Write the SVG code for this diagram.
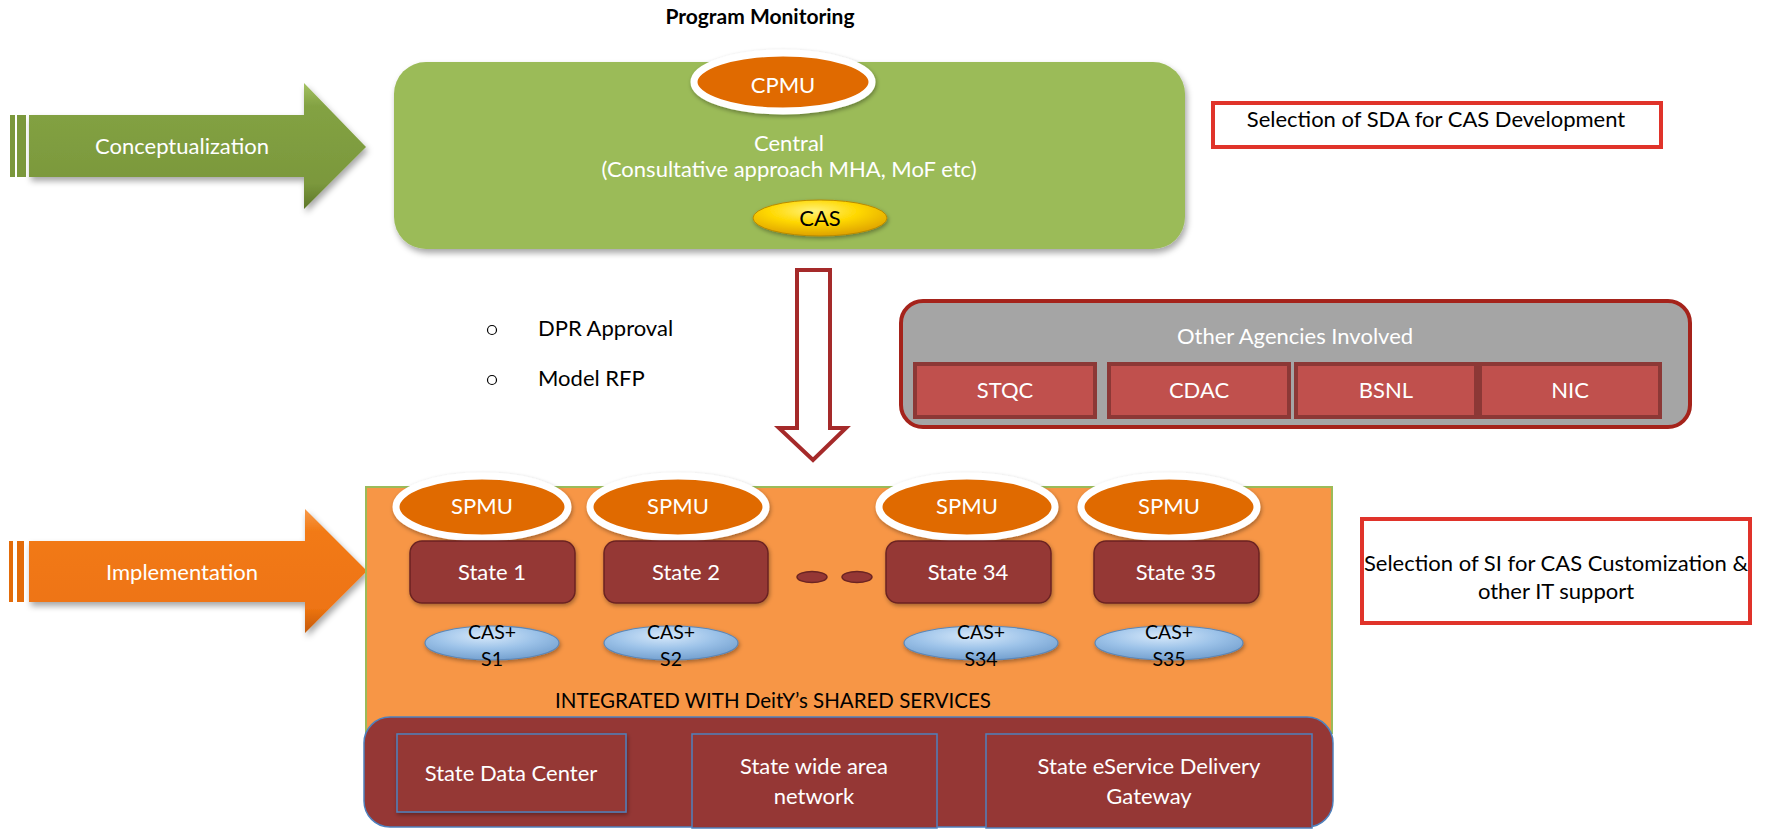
<svg xmlns="http://www.w3.org/2000/svg" width="1765" height="829" viewBox="0 0 1765 829">
  <defs>
    <filter id="sh" x="-10%" y="-10%" width="125%" height="135%">
      <feDropShadow dx="2" dy="4" stdDeviation="3" flood-color="#000" flood-opacity="0.35"/>
    </filter>
    <filter id="shs" x="-10%" y="-20%" width="125%" height="150%">
      <feDropShadow dx="1" dy="2" stdDeviation="2" flood-color="#000" flood-opacity="0.35"/>
    </filter>
    <linearGradient id="gArrow" x1="0" y1="0" x2="0" y2="1">
      <stop offset="0" stop-color="#a4c262"/>
      <stop offset="0.18" stop-color="#83a243"/>
      <stop offset="0.8" stop-color="#7b983c"/>
      <stop offset="1" stop-color="#5d7629"/>
    </linearGradient>
    <linearGradient id="oArrow" x1="0" y1="0" x2="0" y2="1">
      <stop offset="0" stop-color="#f79a4a"/>
      <stop offset="0.18" stop-color="#f27a15"/>
      <stop offset="0.8" stop-color="#ee7412"/>
      <stop offset="1" stop-color="#c45a08"/>
    </linearGradient>
    <radialGradient id="gold" cx="0.45" cy="0.3" r="0.75">
      <stop offset="0" stop-color="#fff27a"/>
      <stop offset="0.45" stop-color="#ffd800"/>
      <stop offset="1" stop-color="#d99a00"/>
    </radialGradient>
    <radialGradient id="sky" cx="0.45" cy="0.3" r="0.75">
      <stop offset="0" stop-color="#d6e8fa"/>
      <stop offset="0.5" stop-color="#9dc3e9"/>
      <stop offset="1" stop-color="#6f9ccc"/>
    </radialGradient>
    <style>
      text { font-family: Lato, "Open Sans", "Liberation Sans", sans-serif; font-size: 22px; }
      .w { fill: #ffffff; }
      .k { fill: #000000; }
      .c { text-anchor: middle; }
      .sm { font-size: 19.5px; }
      .pmu { fill: #e06a00; stroke: #ffffff; stroke-width: 7; }
      .state { fill: #953735; stroke: #6b2422; stroke-width: 1.5; }
      .casp { fill: url(#sky); stroke: #5b87b8; stroke-width: 1.2; }
      .agency { fill: #c0504d; stroke: #8c3836; stroke-width: 4; }
      .svc { fill: #953735; stroke: #4f81bd; stroke-width: 1.5; }
      .sel { fill: #ffffff; stroke: #e0332a; stroke-width: 4; }
    </style>
  </defs>

  <rect width="1765" height="829" fill="#ffffff"/>

  <!-- title -->
  <text id="title" x="760" y="24" class="k c" style="font-weight:bold;font-size:21px">Program Monitoring</text>

  <!-- phase arrows -->
  <g id="conceptualization">
    <rect x="10" y="115" width="5" height="62" fill="#7b983c"/>
    <rect x="17" y="115" width="9" height="62" fill="#7b983c"/>
    <path d="M29,115 L304,115 L304,83 L366,147 L304,209 L304,177 L29,177 Z" fill="url(#gArrow)" filter="url(#sh)"/>
    <text x="182" y="154" class="w c">Conceptualization</text>
  </g>
  <g id="implementation">
    <rect x="9" y="541" width="4" height="61" fill="#e36c0a"/>
    <rect x="17" y="541" width="7" height="61" fill="#e36c0a"/>
    <path d="M29,541 L305,541 L305,509 L367,571 L305,633 L305,602 L29,602 Z" fill="url(#oArrow)" filter="url(#sh)"/>
    <text x="182" y="580" class="w c">Implementation</text>
  </g>

  <!-- central level -->
  <g id="central">
    <rect x="394" y="62" width="791" height="187" rx="32" fill="#9bbb59" filter="url(#sh)"/>
    <text x="789" y="151" class="w c">Central</text>
    <text x="789" y="177" class="w c">(Consultative approach MHA, MoF etc)</text>
  </g>
  <g id="cpmu">
    <ellipse cx="783" cy="82" rx="89" ry="29" class="pmu" filter="url(#shs)"/>
    <text x="783" y="93" class="w c">CPMU</text>
  </g>
  <g id="cas">
    <ellipse cx="820" cy="218" rx="67" ry="18" fill="url(#gold)" stroke="#b88a00" stroke-width="1" filter="url(#shs)"/>
    <text x="820" y="226" class="k c">CAS</text>
  </g>

  <!-- notes -->
  <g id="notes">
    <circle cx="492" cy="330" r="4.5" fill="none" stroke="#000" stroke-width="1.2"/>
    <text x="538" y="336" class="k">DPR Approval</text>
    <circle cx="492" cy="380" r="4.5" fill="none" stroke="#000" stroke-width="1.2"/>
    <text x="538" y="386" class="k">Model RFP</text>
  </g>

  <g id="sda-selection">
    <rect x="1213" y="103" width="448" height="44" class="sel"/>
    <text x="1436" y="127" class="k c">Selection of SDA for CAS Development</text>
  </g>

  <!-- other agencies -->
  <g id="other-agencies">
    <rect x="901" y="301" width="789" height="126" rx="22" fill="#a5a5a5" stroke="#a5231b" stroke-width="4"/>
    <text x="1295" y="344" class="w c">Other Agencies Involved</text>
  </g>
  <g id="stqc">
    <rect x="915" y="364" width="180" height="53" class="agency"/>
    <text x="1005" y="398" class="w c">STQC</text>
  </g>
  <g id="cdac">
    <rect x="1109" y="364" width="180" height="53" class="agency"/>
    <text x="1199" y="398" class="w c">CDAC</text>
  </g>
  <g id="bsnl">
    <rect x="1296" y="364" width="180" height="53" class="agency"/>
    <text x="1386" y="398" class="w c">BSNL</text>
  </g>
  <g id="nic">
    <rect x="1480" y="364" width="180" height="53" class="agency"/>
    <text x="1570" y="398" class="w c">NIC</text>
  </g>

  <!-- state level -->
  <g id="states">
    <rect x="366" y="487" width="966" height="246" fill="#f79646" stroke="#9bbb59" stroke-width="2"/>
    <text x="773" y="708" class="k c" style="font-size:20.5px">INTEGRATED WITH DeitY’s SHARED SERVICES</text>
  </g>

  <g id="spmu-1">
    <ellipse cx="482" cy="507" rx="86" ry="31" class="pmu" filter="url(#shs)"/>
    <text x="482" y="514" class="w c">SPMU</text>
  </g>
  <g id="spmu-2">
    <ellipse cx="678" cy="507" rx="88" ry="31" class="pmu" filter="url(#shs)"/>
    <text x="678" y="514" class="w c">SPMU</text>
  </g>
  <g id="spmu-34">
    <ellipse cx="967" cy="507" rx="88" ry="31" class="pmu" filter="url(#shs)"/>
    <text x="967" y="514" class="w c">SPMU</text>
  </g>
  <g id="spmu-35">
    <ellipse cx="1169" cy="507" rx="88" ry="31" class="pmu" filter="url(#shs)"/>
    <text x="1169" y="514" class="w c">SPMU</text>
  </g>

  <g id="state-1">
    <rect x="410" y="541" width="165" height="62" rx="12" class="state" filter="url(#shs)"/>
    <text x="492" y="580" class="w c">State 1</text>
  </g>
  <g id="state-2">
    <rect x="604" y="541" width="164" height="62" rx="12" class="state" filter="url(#shs)"/>
    <text x="686" y="580" class="w c">State 2</text>
  </g>
  <g id="ellipsis">
    <ellipse cx="812" cy="577" rx="15" ry="5.5" class="state"/>
    <ellipse cx="857" cy="577" rx="15" ry="5.5" class="state"/>
  </g>
  <g id="state-34">
    <rect x="886" y="541" width="165" height="62" rx="12" class="state" filter="url(#shs)"/>
    <text x="968" y="580" class="w c">State 34</text>
  </g>
  <g id="state-35">
    <rect x="1094" y="541" width="165" height="62" rx="12" class="state" filter="url(#shs)"/>
    <text x="1176" y="580" class="w c">State 35</text>
  </g>

  <g id="cas-s1">
    <ellipse cx="492" cy="643" rx="67" ry="17" class="casp" filter="url(#shs)"/>
    <text x="492" y="639" class="k c sm">CAS+</text>
    <text x="492" y="666" class="k c sm">S1</text>
  </g>
  <g id="cas-s2">
    <ellipse cx="671" cy="643" rx="67" ry="17" class="casp" filter="url(#shs)"/>
    <text x="671" y="639" class="k c sm">CAS+</text>
    <text x="671" y="666" class="k c sm">S2</text>
  </g>
  <g id="cas-s34">
    <ellipse cx="981" cy="643" rx="77" ry="17" class="casp" filter="url(#shs)"/>
    <text x="981" y="639" class="k c sm">CAS+</text>
    <text x="981" y="666" class="k c sm">S34</text>
  </g>
  <g id="cas-s35">
    <ellipse cx="1169" cy="643" rx="74" ry="17" class="casp" filter="url(#shs)"/>
    <text x="1169" y="639" class="k c sm">CAS+</text>
    <text x="1169" y="666" class="k c sm">S35</text>
  </g>

  <!-- shared services -->
  <g id="shared-services">
    <rect x="364" y="717" width="969" height="110" rx="26" class="svc"/>
  </g>
  <g id="state-data-center">
    <rect x="397" y="734" width="229" height="78" class="svc" filter="url(#shs)"/>
    <text x="511" y="781" class="w c">State Data Center</text>
  </g>
  <g id="state-wan">
    <rect x="692" y="734" width="245" height="94" class="svc"/>
    <text x="814" y="774" class="w c">State wide area</text>
    <text x="814" y="804" class="w c">network</text>
  </g>
  <g id="state-sdg">
    <rect x="986" y="734" width="326" height="94" class="svc"/>
    <text x="1149" y="774" class="w c">State eService Delivery</text>
    <text x="1149" y="804" class="w c">Gateway</text>
  </g>

  <g id="si-selection">
    <rect x="1362" y="519" width="388" height="104" class="sel"/>
    <text x="1556" y="571" class="k c">Selection of SI for CAS Customization &amp;</text>
    <text x="1556" y="599" class="k c">other IT support</text>
  </g>

  <!-- flow from central to states -->
  <g id="connectors">
    <path d="M797,270 L830,270 L830,428 L846,428 L813,460 L779,428 L797,428 Z" fill="#ffffff" stroke="#a52a2a" stroke-width="4" stroke-linejoin="miter"/>
  </g>
</svg>
